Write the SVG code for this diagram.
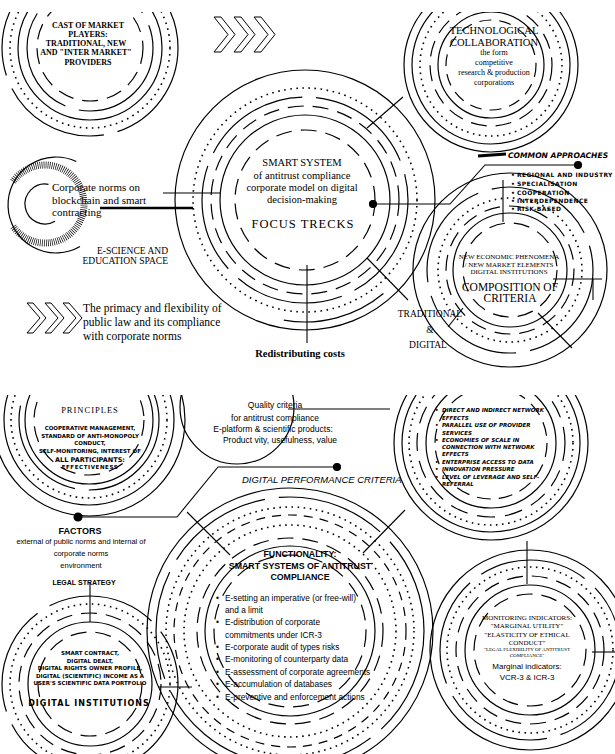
<svg xmlns="http://www.w3.org/2000/svg" xmlns:xlink="http://www.w3.org/1999/xlink" width="615" height="754" viewBox="0 0 615 754">
<style>
.c{fill:none;stroke:#000;stroke-width:1.2}
.t{stroke-width:3.2}
.ld{stroke-dasharray:16 9}
.sd{stroke-dasharray:9 7}
.br{stroke-dasharray:110 14}
.dt{stroke-dasharray:1.6 4.5;stroke-width:1.6}
.ln{fill:none;stroke:#000;stroke-width:1.1}
.sf{font-family:"Liberation Serif","DejaVu Serif",serif}
.ss{font-family:"Liberation Sans","DejaVu Sans",sans-serif}
.dj{font-family:"DejaVu Sans",sans-serif;font-weight:bold}
.mid{text-anchor:middle}
.chev{fill:#fff;stroke:#000;stroke-width:1}
</style>
<defs>
<clipPath id="topP"><rect x="0" y="12" width="615" height="371"/></clipPath>
<clipPath id="botP"><rect x="0" y="395" width="615" height="359"/></clipPath>
<polygon id="chevA" points="0,0 7,0 21,17.5 7,35 0,35 14,17.5"/>
<polygon id="chevB" points="0,0 6,0 19,15 6,30 0,30 13,15"/>
</defs>
<rect width="615" height="754" fill="#fff"/>

<g clip-path="url(#topP)">
<g id="n-cast">
<circle class="c ld" cx="90" cy="48" r="53"/>
<circle class="c br" cx="90" cy="48" r="63"/>
<circle class="c" cx="90" cy="48" r="72"/>
<circle class="c dt" cx="90" cy="48" r="80"/>
<circle class="c br" cx="90" cy="48" r="88"/>
<g class="sf mid" font-size="8" font-weight="bold">
<text x="88" y="28">CAST OF MARKET</text>
<text x="88" y="37">PLAYERS:</text>
<text x="86" y="46">TRADITIONAL, NEW</text>
<text x="86" y="55">AND "INTER MARKET"</text>
<text x="88" y="65">PROVIDERS</text>
</g>
</g>

<g id="n-arrows-top">
<use xlink:href="#chevA" class="chev" x="214" y="17"/>
<use xlink:href="#chevA" class="chev" x="234" y="17"/>
<use xlink:href="#chevA" class="chev" x="254" y="17"/>
</g>

<g id="n-smart">
<circle class="c ld" cx="305" cy="200" r="70"/>
<circle class="c" cx="305" cy="200" r="85"/>
<circle class="c ld" cx="305" cy="200" r="94"/>
<circle class="c br" cx="305" cy="200" r="103"/>
<circle class="c dt" cx="305" cy="200" r="112"/>
<path class="c" d="M383.4,293.5 A122,122 0 0 1 283.8,320.1"/>
<circle class="c" cx="305" cy="200" r="130"/>
<g class="sf mid">
<text x="302" y="166" font-size="10.5">SMART SYSTEM</text>
<text x="302" y="179" font-size="10.5">of antitrust compliance</text>
<text x="302" y="191" font-size="10.5">corporate model on digital</text>
<text x="302" y="203" font-size="10.5">decision-making</text>
<text x="303" y="228" font-size="12.5" letter-spacing="1">FOCUS TRECKS</text>
</g>
</g>

<g id="n-tech">
<circle class="c" cx="491" cy="65" r="45" stroke-width="2.5" stroke-dasharray="12 8"/>
<circle class="c" cx="491" cy="65" r="53" stroke-width="1.5"/>
<circle class="c" cx="491" cy="65" r="61" stroke-width="3" stroke-dasharray="16 9"/>
<circle class="c dt" cx="491" cy="65" r="71"/>
<circle class="c" cx="491" cy="65" r="79" stroke-width="3"/>
<circle class="c" cx="491" cy="65" r="87" stroke-width="3.5"/>
<g class="sf mid" fill="#000">
<text x="494" y="34" font-size="10.5">TECHNOLOGICAL</text>
<text x="494" y="46" font-size="10.5">COLLABORATION</text>
<text x="494" y="55" font-size="8">the form</text>
<text x="494" y="65" font-size="8">competitive</text>
<text x="494" y="75" font-size="8">research &amp; production</text>
<text x="494" y="85" font-size="8">corporations</text>
</g>
</g>

<g id="n-corp">
<path class="c" stroke-width="1.6" d="M48.5,184.3 A20,20 0 1 0 55,221.3"/>
<path fill="none" stroke="#000" stroke-width="7" stroke-dasharray="0.7 1.3" d="M13.1,181.6 A39,39 0 1 1 13.1,226.4"/>
<path class="c" stroke-width="1.6" d="M76.3,161.5 A48,48 0 1 0 80,246.6"/>
<g class="sf" font-size="11">
<text x="52" y="191">Corporate norms on</text>
<text x="52" y="204">blockchain and smart</text>
<text x="52" y="216">contracting</text>
</g>
</g>

<g id="n-escience" class="sf" font-size="9.5" text-anchor="end">
<text x="168" y="254">E-SCIENCE AND</text>
<text x="168" y="264">EDUCATION SPACE</text>
</g>

<g id="n-common">
<text x="508" y="158" class="dj" font-style="italic" font-size="7.6">COMMON APPROACHES</text>
<g class="dj" font-size="6" letter-spacing="0.4">
<text x="511" y="177">•</text><text x="517" y="177">REGIONAL AND INDUSTRY</text>
<text x="511" y="186">•</text><text x="517" y="186">SPECIALISATION</text>
<text x="511" y="195">•</text><text x="517" y="195">COOPERATION</text>
<text x="511" y="203">•</text><text x="517" y="203">INTERDEPENDENCE</text>
<text x="511" y="211">•</text><text x="517" y="211">RISK-BASED</text>
</g>
</g>

<g id="n-composition">
<circle class="c ld" cx="510" cy="270" r="47"/>
<circle class="c" cx="510" cy="270" r="57"/>
<circle class="c ld" cx="510" cy="270" r="64"/>
<circle class="c dt" cx="510" cy="270" r="72"/>
<circle class="c br" cx="510" cy="270" r="83"/>
<circle class="c" cx="510" cy="270" r="97"/>
<g class="sf mid" fill="#000">
<text x="509" y="259" font-size="7">NEW ECONOMIC PHENOMENA</text>
<text x="509" y="266.5" font-size="7">/ NEW MARKET ELEMENTS</text>
<text x="509" y="274" font-size="7">DIGITAL INSTITUTIONS</text>
<text x="510" y="291" font-size="11.5">COMPOSITION OF</text>
<text x="510" y="302" font-size="11.5">CRITERIA</text>
</g>
</g>

<g id="n-traditional" class="sf mid" font-size="9.5">
<text x="430" y="317">TRADITIONAL</text>
<text x="430" y="333">&amp;</text>
<text x="428" y="348">DIGITAL</text>
</g>

<g id="n-primacy">
<use xlink:href="#chevB" class="chev" x="27" y="303"/>
<use xlink:href="#chevB" class="chev" x="45" y="303"/>
<use xlink:href="#chevB" class="chev" x="63" y="303"/>
<g class="sf" font-size="11.5">
<text x="83" y="312">The primacy and flexibility of</text>
<text x="83" y="326">public law and its compliance</text>
<text x="83" y="340">with corporate norms</text>
</g>
</g>

<g id="n-redistributing">
<text x="300" y="357" class="sf mid" font-size="10.5" font-weight="bold">Redistributing costs</text>
</g>
</g>

<g clip-path="url(#botP)">
<g id="n-principles">
<circle class="c ld" cx="89" cy="420" r="55"/>
<circle class="c" cx="89" cy="420" r="64"/>
<circle class="c br" cx="89" cy="420" r="70"/>
<circle class="c dt" cx="89" cy="420" r="78"/>
<circle class="c" cx="89" cy="420" r="85"/>
<circle class="c" cx="89" cy="420" r="96"/>
<text x="90" y="413" class="sf mid" font-size="8.5" letter-spacing="1">PRINCIPLES</text>
<g class="dj mid" font-size="5.5">
<text x="90" y="430">COOPERATIVE MANAGEMENT,</text>
<text x="90" y="438">STANDARD OF ANTI-MONOPOLY</text>
<text x="90" y="445">CONDUCT,</text>
<text x="90" y="453">SELF-MONITORING, INTEREST OF</text>
<text x="90" y="462" font-size="6.5">ALL PARTICIPANTS:</text>
<text x="90" y="469" letter-spacing="0.6">EFFECTIVENESS</text>
</g>
</g>

<g id="n-quality">
<circle class="c" stroke-width="1.8" cx="237" cy="407" r="57"/>
<g class="ss mid" font-size="8.5">
<text x="275" y="408">Quality criteria</text>
<text x="275" y="421">for antitrust compliance</text>
<text x="273" y="432">E-platform &amp; scientific products:</text>
<text x="280" y="443">Product vity, usefulness, value</text>
</g>
</g>

<g id="n-network">
<circle class="c" cx="491" cy="443" r="56" stroke-width="2.5" stroke-dasharray="14 8"/>
<circle class="c" cx="491" cy="443" r="65" stroke-width="1.5"/>
<circle class="c" cx="491" cy="443" r="74" stroke-width="3" stroke-dasharray="18 10"/>
<circle class="c dt" cx="491" cy="443" r="82"/>
<circle class="c" cx="491" cy="443" r="89" stroke-width="3"/>
<circle class="c" cx="491" cy="443" r="97" stroke-width="3.5"/>
<g class="dj" font-style="italic" font-size="5.5">
<text x="435" y="412">•</text><text x="442" y="412">DIRECT AND INDIRECT NETWORK</text>
<text x="442" y="420">EFFECTS</text>
<text x="435" y="427">•</text><text x="442" y="427">PARALLEL USE OF PROVIDER</text>
<text x="442" y="435">SERVICES</text>
<text x="435" y="442">•</text><text x="442" y="442">ECONOMIES OF SCALE IN</text>
<text x="442" y="449">CONNECTION WITH NETWORK</text>
<text x="442" y="456">EFFECTS</text>
<text x="435" y="464">•</text><text x="442" y="464">ENTERPRISE ACCESS TO DATA</text>
<text x="435" y="471">•</text><text x="442" y="471">INNOVATION PRESSURE</text>
<text x="435" y="479">•</text><text x="442" y="479">LEVEL OF LEVERAGE AND SELF-</text>
<text x="442" y="486">REFERRAL</text>
</g>
</g>

<g id="n-dpc">
<text x="242" y="483" class="ss" font-style="italic" font-size="9.5">DIGITAL PERFORMANCE CRITERIA</text>
</g>

<g id="n-factors" class="ss mid">
<text x="80" y="534" font-size="9" font-weight="bold">FACTORS</text>
<text x="81" y="544" font-size="7.5">external of public norms and internal of</text>
<text x="81" y="556" font-size="7.5">corporate norms</text>
<text x="81" y="568" font-size="7.5">environment</text>
</g>

<g id="n-legal">
<text x="84" y="585" class="ss mid" font-size="7" font-weight="bold">LEGAL STRATEGY</text>
</g>

<g id="n-functionality">
<circle class="c ld" cx="290" cy="631" r="76"/>
<circle class="c" cx="290" cy="631" r="85"/>
<circle class="c ld" cx="290" cy="631" r="93"/>
<circle class="c dt" cx="290" cy="631" r="106"/>
<circle class="c sd" cx="290" cy="631" r="116"/>
<circle class="c dt" cx="290" cy="631" r="124"/>
<circle class="c br" cx="290" cy="631" r="134"/>
<circle class="c" cx="290" cy="631" r="143"/>
<g class="ss mid" font-size="8.8" font-weight="bold">
<text x="300" y="557">FUNCTIONALITY:</text>
<text x="300" y="569">SMART SYSTEMS OF ANTITRUST</text>
<text x="300" y="580">COMPLIANCE</text>
</g>
<g class="ss" font-size="8.3">
<text x="216" y="601">•</text><text x="225" y="601">E-setting an imperative (or free-will)</text>
<text x="225" y="613">and a limit</text>
<text x="216" y="625">•</text><text x="225" y="625">E-distribution of corporate</text>
<text x="225" y="638">commitments under ICR-3</text>
<text x="216" y="650">•</text><text x="225" y="650">E-corporate audit of types risks</text>
<text x="216" y="662">•</text><text x="225" y="662">E-monitoring of counterparty data</text>
<text x="216" y="675">•</text><text x="225" y="675">E-assessment of corporate agreements</text>
<text x="216" y="687">•</text><text x="225" y="687">E-accumulation of databases</text>
<text x="216" y="700">•</text><text x="225" y="700">E-preventive and enforcement actions</text>
</g>
</g>

<g id="n-institutions">
<circle class="c ld" cx="90" cy="684" r="52"/>
<circle class="c" cx="90" cy="684" r="62"/>
<circle class="c ld" cx="90" cy="684" r="71"/>
<circle class="c dt" cx="90" cy="684" r="80"/>
<circle class="c br" cx="90" cy="684" r="88"/>
<g class="dj mid" font-size="5.5">
<text x="90" y="655">SMART CONTRACT,</text>
<text x="90" y="663">DIGITAL DEALT,</text>
<text x="90" y="670">DIGITAL RIGHTS OWNER PROFILE,</text>
<text x="90" y="678">DIGITAL (SCIENTIFIC) INCOME AS A</text>
<text x="90" y="685">USER'S SCIENTIFIC DATA PORTFOLIO</text>
<text x="89" y="706" font-size="8" letter-spacing="1">DIGITAL INSTITUTIONS</text>
</g>
</g>

<g id="n-monitoring">
<circle class="c ld" cx="530" cy="650" r="56"/>
<circle class="c" cx="530" cy="650" r="65"/>
<circle class="c ld" cx="530" cy="650" r="74"/>
<circle class="c dt" cx="530" cy="650" r="83"/>
<circle class="c br" cx="530" cy="650" r="90"/>
<circle class="c" cx="530" cy="650" r="100"/>
<g class="sf mid" font-size="7">
<text x="527" y="620">MONITORING INDICATORS:</text>
<text x="527" y="628">"MARGINAL UTILITY"</text>
<text x="527" y="637">"ELASTICITY OF ETHICAL</text>
<text x="527" y="645">CONDUCT"</text>
<text x="527" y="651" font-size="5">"LEGAL FLEXIBILITY OF ANTITRUST</text>
<text x="527" y="657" font-size="5">COMPLIANCE"</text>
</g>
<g class="ss mid" font-size="8">
<text x="527" y="669">Marginal indicators:</text>
<text x="527" y="680">VCR-3 &amp; ICR-3</text>
</g>
</g>
</g>

<g id="connectors" class="ln">
<line x1="163" y1="193" x2="220" y2="193"/>
<line x1="100" y1="208" x2="193" y2="208" stroke-width="2.5"/>
<line x1="367" y1="128" x2="403" y2="97"/>
<polyline points="373,204 450,204 485,165 578,165"/>
<circle cx="373" cy="204" r="3.5" fill="#000"/>
<circle cx="578" cy="165" r="3.5" fill="#000"/>
<line x1="478" y1="156" x2="506" y2="154" stroke-width="3"/>
<line x1="503" y1="180" x2="503" y2="222"/>
<line x1="553" y1="279" x2="602" y2="279"/>
<line x1="593" y1="279" x2="593" y2="300"/>
<line x1="538" y1="313" x2="572" y2="348"/>
<line x1="463" y1="308" x2="448" y2="327"/>
<line x1="307" y1="265" x2="307" y2="343"/>
<line x1="367" y1="258" x2="408" y2="300"/>
<polyline points="78,517 177,517 218,467 337,467"/>
<circle cx="78" cy="517" r="4" fill="#000"/>
<circle cx="337" cy="467" r="3.5" fill="#000"/>
<line x1="187" y1="512" x2="230" y2="555"/>
<line x1="288" y1="409" x2="390" y2="409"/>
<line x1="405" y1="510" x2="363" y2="553"/>
<line x1="527" y1="541" x2="527" y2="584"/>
<line x1="90" y1="583" x2="90" y2="622"/>
<line x1="158" y1="687" x2="192" y2="687"/>
<line x1="592" y1="652" x2="615" y2="652"/>
</g>
</svg>
